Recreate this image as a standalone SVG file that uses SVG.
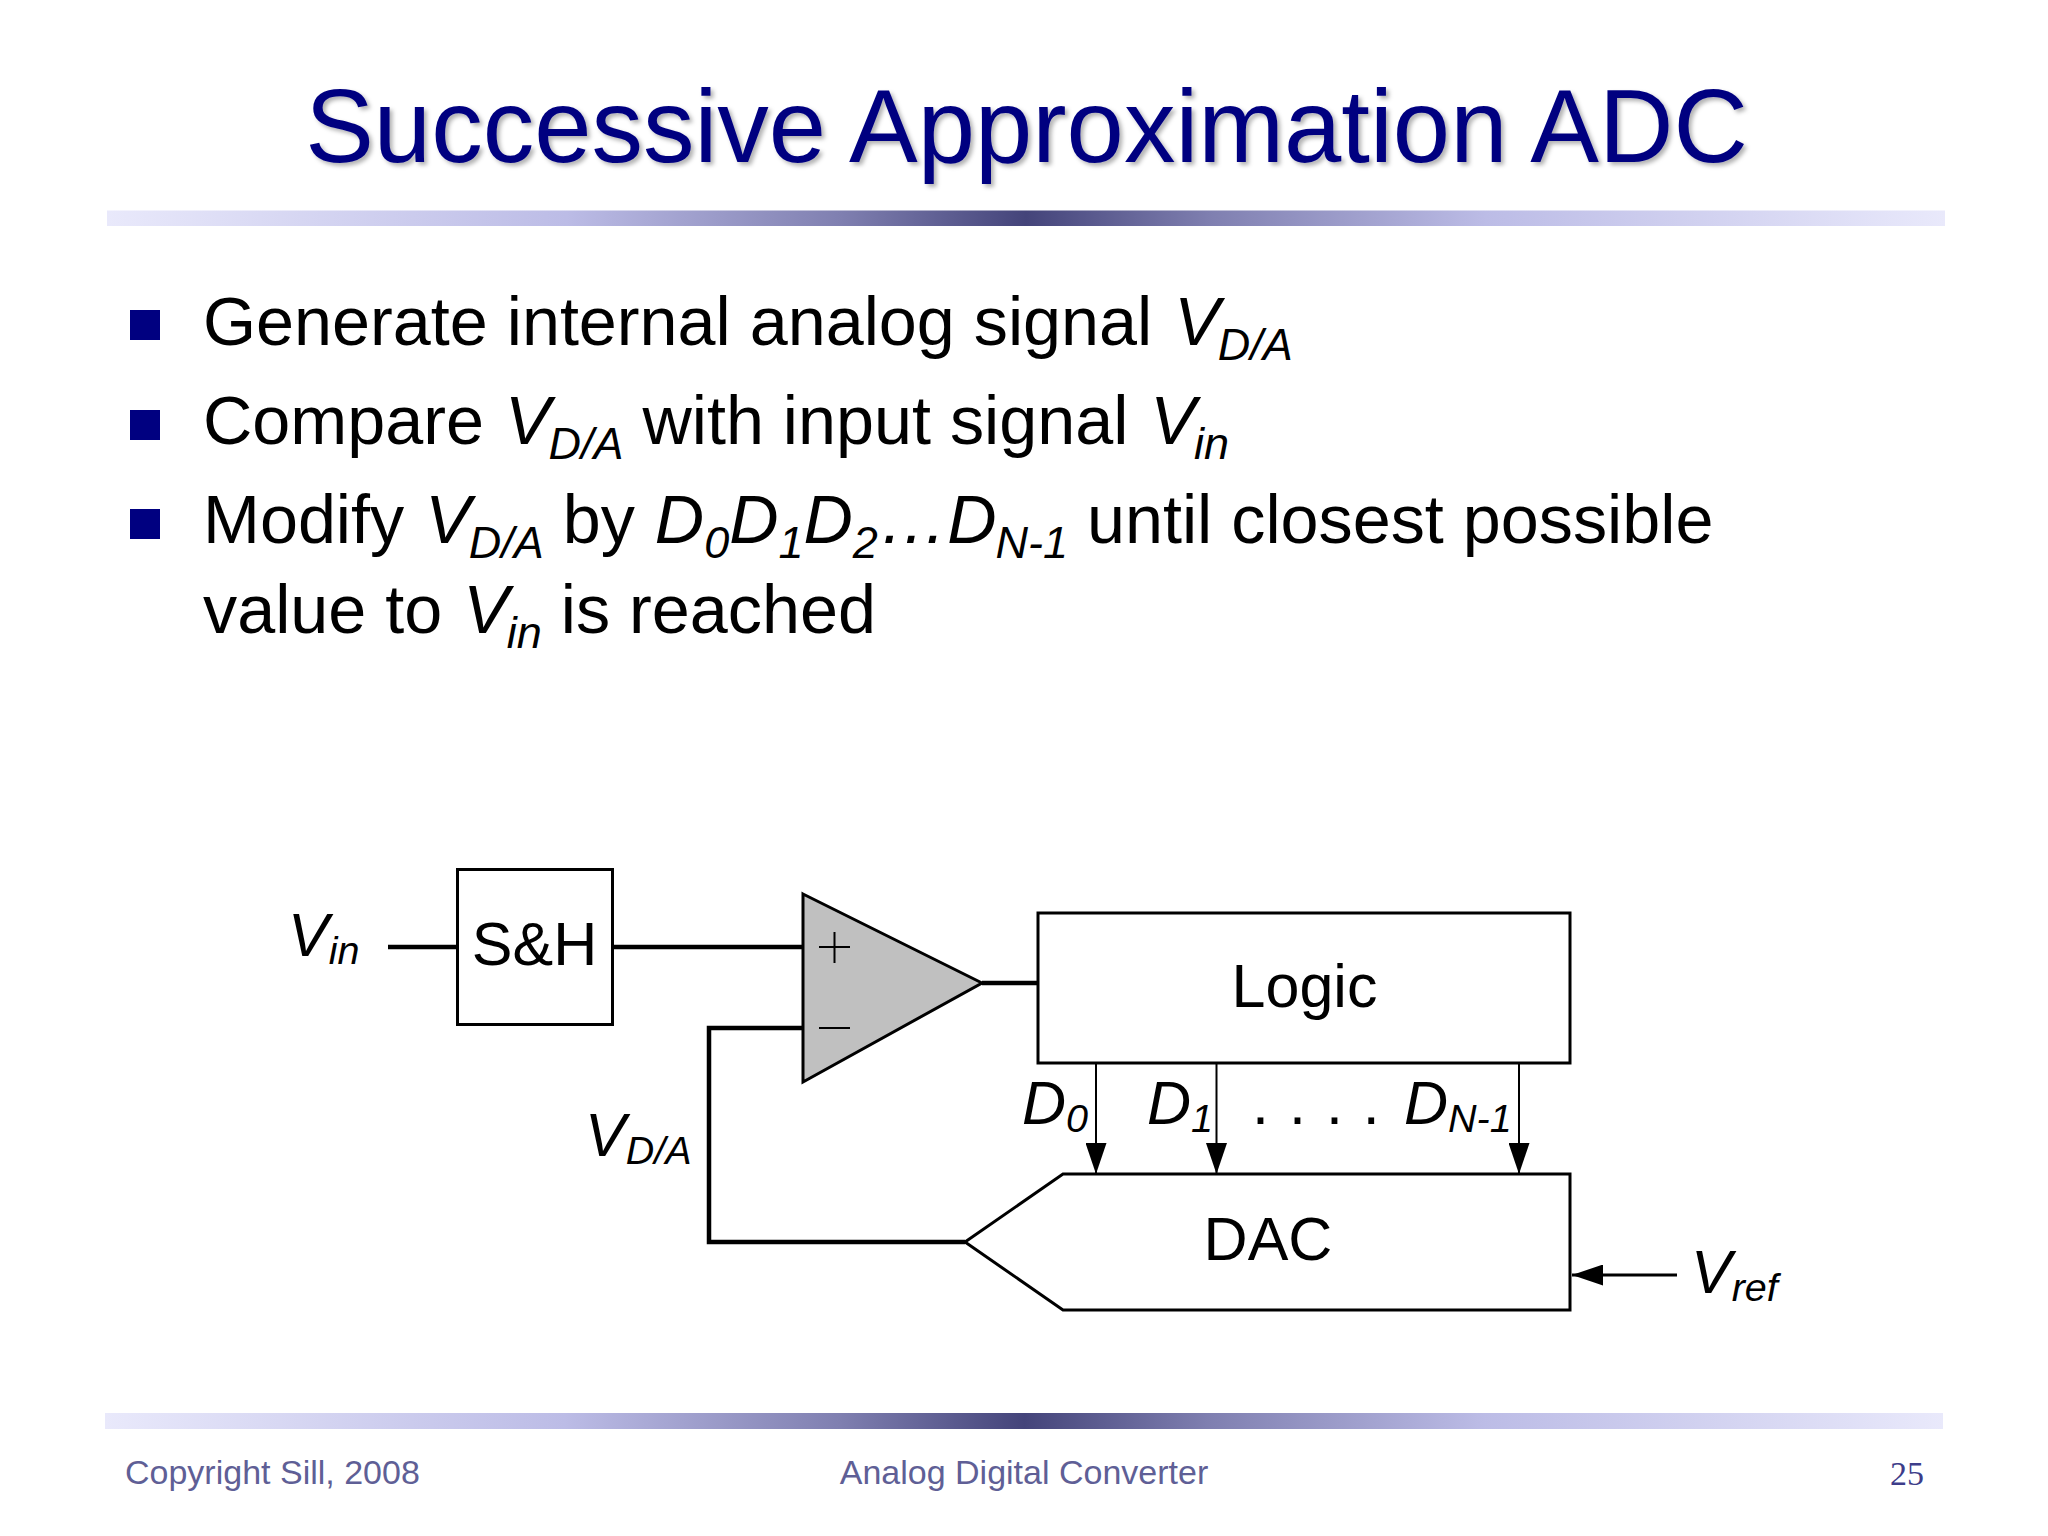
<svg xmlns="http://www.w3.org/2000/svg" width="2048" height="1536" viewBox="0 0 2048 1536">
<style>
text{font-family:"Liberation Sans",Arial,sans-serif;fill:#000}
.title{font-size:103px;fill:#000080}
.body{font-size:68.300px}
.b{font-size:45px;font-style:italic}
.lab{font-size:61px}
.i{font-style:italic}
.s{font-size:39.500px;font-style:italic}
.foot{font-size:34px;fill:#5f5f96}
.box{fill:#fff;stroke:#000;stroke-width:3}
.wire{fill:none;stroke:#000;stroke-width:4.500px}
.thin{fill:none;stroke:#000;stroke-width:2}
.bul{fill:#000080}
</style>
<defs>
<linearGradient id="rule"><stop offset="0" stop-color="#e9e9fb"/><stop offset=".25" stop-color="#bcbce6"/><stop offset=".4" stop-color="#7f7fb0"/><stop offset=".5" stop-color="#44447a"/><stop offset=".6" stop-color="#7f7fb0"/><stop offset=".75" stop-color="#bcbce6"/><stop offset="1" stop-color="#e9e9fb"/></linearGradient>
<filter id="sh" x="-5%" y="-20%" width="110%" height="140%"><feDropShadow dx="3" dy="3" stdDeviation="2" flood-color="#000" flood-opacity=".3"/></filter>
<marker id="ah" viewBox="0 0 31 21" refX="31" refY="10.5" markerWidth="31" markerHeight="21" markerUnits="userSpaceOnUse" orient="auto"><path d="M0 0L31 10.500L0 21Z" fill="#000"/></marker>
</defs>
<rect width="2048" height="1536" fill="#fff"/>
<g id="slide-header">
<text class="title" x="1026.500" y="162" text-anchor="middle" filter="url(#sh)">Successive Approximation ADC</text>
<rect x="107" y="210.500" width="1838" height="15.500" fill="url(#rule)"/>
</g>
<g id="bullets">
<rect class="bul" x="130" y="310" width="30" height="30"/>
<rect class="bul" x="130" y="410" width="30" height="30"/>
<rect class="bul" x="130" y="509" width="30" height="30"/>
<text class="body" x="203" y="345">Generate internal analog signal <tspan class="i" dx="3">V</tspan><tspan class="b" dx="-2" dy="15">D/A</tspan></text>
<text class="body" x="203" y="444">Compare <tspan class="i" dx="2">V</tspan><tspan class="b" dx="-2" dy="15">D/A</tspan><tspan dy="-15"> with input signal </tspan><tspan class="i" dx="3">V</tspan><tspan class="b" dx="-2" dy="15">in</tspan></text>
<text class="body" x="203" y="543">Modify <tspan class="i" dx="2">V</tspan><tspan class="b" dx="-2" dy="15">D/A</tspan><tspan dy="-15"> by </tspan><tspan class="i" dx="1">D</tspan><tspan class="b" dy="15">0</tspan><tspan class="i" dy="-15">D</tspan><tspan class="b" dy="15">1</tspan><tspan class="i" dy="-15">D</tspan><tspan class="b" dy="15">2</tspan><tspan class="i" dx="1" dy="-15">…D</tspan><tspan class="b" dx="-1" dy="15">N-1</tspan><tspan dy="-15"> until closest possible</tspan></text>
<text class="body" x="203" y="633">value to <tspan class="i" dx="2">V</tspan><tspan class="b" dx="-2" dy="15">in</tspan><tspan dy="-15"> is reached</tspan></text>
</g>
<g id="connectors">
<path class="wire" d="M388 947H457"/>
<path class="wire" d="M612 947H802"/>
<path class="wire" d="M802 1028H709V1242H965"/>
<path class="wire" d="M982 983H1038"/>
<path class="thin" d="M1096 1063V1174" marker-end="url(#ah)"/>
<path class="thin" d="M1216.500 1063V1174" marker-end="url(#ah)"/>
<path class="thin" d="M1519 1063V1174" marker-end="url(#ah)"/>
<path class="wire" style="stroke-width:3" d="M1677 1275H1572" marker-end="url(#ah)"/>
</g>
<g id="sh-block"><rect class="box" x="457.500" y="869.500" width="155" height="155"/><text class="lab" x="534.500" y="965" text-anchor="middle">S&amp;H</text></g>
<g id="comparator"><path d="M803 894L982 983L803 1082Z" fill="#c0c0c0" stroke="#000" stroke-width="3"/><path class="thin" d="M819 947H850M834.500 932V963M819 1028H850"/></g>
<g id="logic"><rect class="box" x="1038" y="913" width="532" height="150"/><text class="lab" x="1304.500" y="1007" text-anchor="middle">Logic</text></g>
<g id="dac"><path class="box" d="M965 1242L1063 1174H1570V1310H1063Z"/><text class="lab" x="1268" y="1260" text-anchor="middle">DAC</text></g>
<g id="labels">
<text class="lab i" x="288" y="956">V<tspan class="s" dy="8">in</tspan></text>
<text class="lab i" x="585" y="1156">V<tspan class="s" dy="8">D/A</tspan></text>
<text class="lab i" x="1022" y="1124">D<tspan class="s" dy="8">0</tspan></text>
<text class="lab i" x="1147" y="1124">D<tspan class="s" dy="8">1</tspan></text>
<text class="lab" x="1252" y="1124" letter-spacing="20">....</text>
<text class="lab i" x="1404" y="1124">D<tspan class="s" dy="8">N-1</tspan></text>
<text class="lab i" x="1691" y="1293">V<tspan class="s" dy="8">ref</tspan></text>
</g>
<g id="footer">
<rect x="105" y="1413" width="1838" height="16" fill="url(#rule)"/>
<text class="foot" x="125" y="1484">Copyright Sill, 2008</text>
<text class="foot" x="1024" y="1484" text-anchor="middle">Analog Digital Converter</text>
<text class="foot" x="1907" y="1485" text-anchor="middle" style="font-family:'Liberation Serif',serif;fill:#3d3d8a">25</text>
</g>
</svg>
